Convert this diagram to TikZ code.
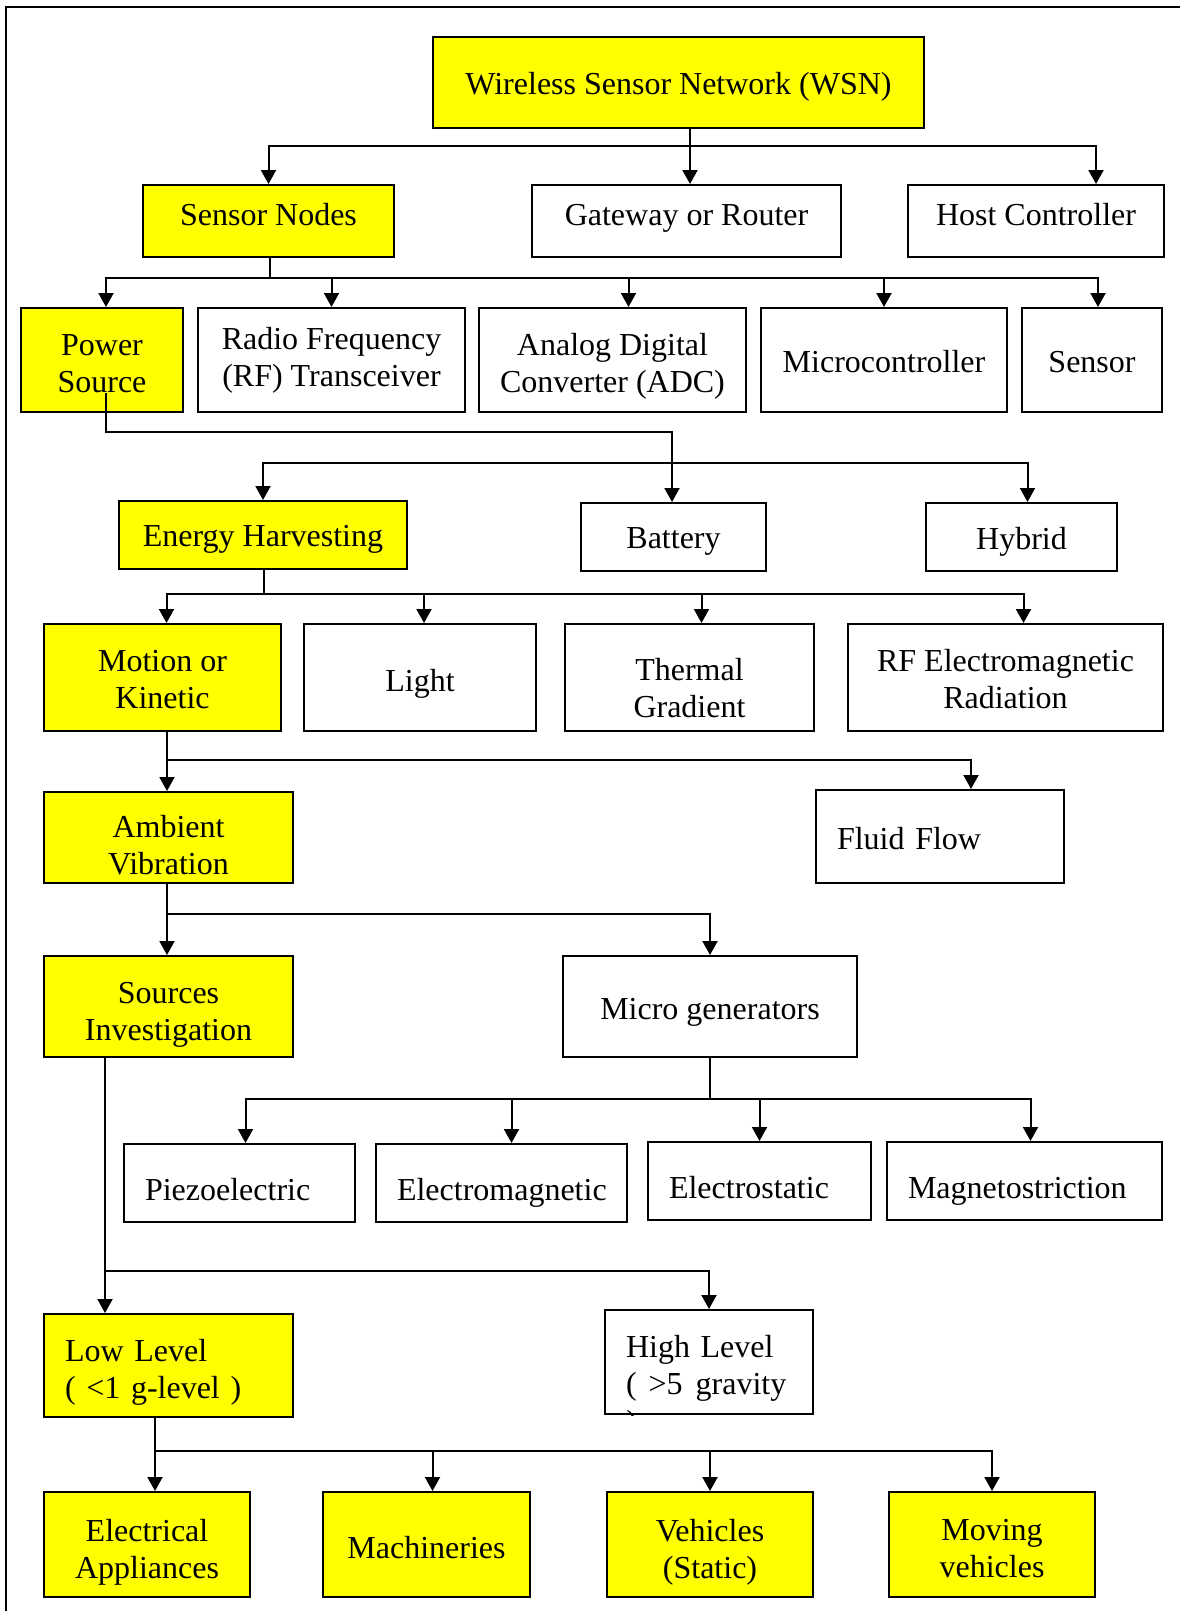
\documentclass[tikz,border=0pt]{standalone}
\usepackage{fontspec}
\setmainfont{Liberation Serif}
\usetikzlibrary{arrows.meta}
\definecolor{boxyellow}{RGB}{255,255,0}

\begin{document}
\begin{tikzpicture}[
    x=0.5pt, y=-0.5pt,
    every node/.style={font=\fontsize{16}{18.5}\selectfont},
    every label/.style={align=center},
    box/.style={
        draw,
        line width=1pt,
        inner sep=0pt
    },
    ybox/.style={box, fill=boxyellow},
    ltext/.style={align=left},
    link/.style={line width=1pt},
    arr/.style={-{Triangle[length=7pt,width=7.5pt]}, line width=1pt}
]

    \useasboundingbox (0,0) rectangle (1180,1611);

    % Frame
    \draw[link] (1180,7) -- (6,7) -- (6,1611);

    % Top level
    \node[ybox, minimum width=245.5pt, minimum height=45.5pt,
        label={[yshift=-2pt]center:Wireless Sensor Network (WSN)}] (wsn) at (678.5,82.5) {};

    \node[ybox, minimum width=125.5pt, minimum height=36pt,
        label={[yshift=3pt]center:Sensor Nodes}] (sn) at (268.5,221) {};
    \node[box, minimum width=154.5pt, minimum height=36pt,
        label={[yshift=1.5pt]center:Gateway or Router}] (gw) at (686.5,221) {};
    \node[box, minimum width=128pt, minimum height=36pt,
        label={[yshift=3pt]center:Host Controller}] (hc) at (1036,221) {};

    % Sensor node parts
    \node[ybox, minimum width=81pt, minimum height=52pt,
        label={[yshift=-2pt]center:Power\\Source}] (ps) at (102,360) {};
    \node[box, minimum width=133.5pt, minimum height=52pt,
        label={center:Radio Frequency\\(RF) Transceiver}] (rf) at (331.5,360) {};
    \node[box, minimum width=133.5pt, minimum height=52pt,
        label={[yshift=-3pt]center:Analog Digital\\Converter (ADC)}] (adc) at (612.5,360) {};
    \node[box, minimum width=123pt, minimum height=52pt,
        label={[yshift=-1pt]center:Microcontroller}] (mc) at (884,360) {};
    \node[box, minimum width=70pt, minimum height=52pt,
        label={[yshift=-1pt]center:Sensor}] (sen) at (1092,360) {};

    % Power source
    \node[ybox, minimum width=144pt, minimum height=34pt,
        label={[yshift=-2pt]center:Energy Harvesting}] (eh) at (263,535) {};
    \node[box, minimum width=92.5pt, minimum height=34pt,
        label={[yshift=-2pt]center:Battery}] (bat) at (673.5,537) {};
    \node[box, minimum width=95.5pt, minimum height=34pt,
        label={[yshift=-2.5pt]center:Hybrid}] (hy) at (1021.5,537) {};

    % Harvesting sources
    \node[ybox, minimum width=118.5pt, minimum height=53.5pt,
        label={[yshift=-1pt]center:Motion or\\Kinetic}] (mk) at (162.5,677.5) {};
    \node[box, minimum width=116pt, minimum height=53.5pt,
        label={[yshift=-3pt]center:Light}] (li) at (420,677.5) {};
    \node[box, minimum width=124.5pt, minimum height=53.5pt,
        label={[yshift=-5.5pt]center:Thermal\\Gradient}] (th) at (689.5,677.5) {};
    \node[box, minimum width=157.5pt, minimum height=53.5pt,
        label={[yshift=-1pt]center:RF Electromagnetic\\Radiation}] (rfem) at (1005.5,677.5) {};

    \node[ybox, minimum width=124.5pt, minimum height=45.5pt,
        label={[yshift=-4pt]center:Ambient\\Vibration}] (av) at (168.5,837.5) {};
    \node[box, minimum width=124pt, minimum height=46.5pt,
        label={[ltext, text width=103pt, yshift=-1pt]center:Fluid Flow}] (ff) at (940,836.5) {};

    \node[ybox, minimum width=124.5pt, minimum height=50.5pt,
        label={[yshift=-4pt]center:Sources\\Investigation}] (si) at (168.5,1006.5) {};
    \node[box, minimum width=147pt, minimum height=50.5pt,
        label={[yshift=-3pt]center:Micro generators}] (mg) at (710,1006.5) {};

    % Micro generators
    \node[box, minimum width=115.5pt, minimum height=39pt,
        label={[ltext, text width=94.5pt, yshift=-3.5pt]center:Piezoelectric}] (pz) at (239.5,1183) {};
    \node[box, minimum width=125.5pt, minimum height=39pt,
        label={[ltext, text width=104.5pt, yshift=-5pt]center:Electromagnetic}] (em) at (501.5,1183) {};
    \node[box, minimum width=111.5pt, minimum height=39pt,
        label={[ltext, text width=90.5pt, yshift=-3.5pt]center:Electrostatic}] (es) at (759.5,1181) {};
    \node[box, minimum width=137.5pt, minimum height=39pt,
        label={[ltext, text width=116.5pt, yshift=-5pt]center:Magnetostriction}] (ms) at (1024.5,1181) {};

    % Vibration levels
    \node[ybox, minimum width=124.5pt, minimum height=51.5pt,
        label={[ltext, text width=103.5pt, yshift=-3.5pt]center:Low Level\\( <1 g-level )}] (ll) at (168.5,1365.5) {};
    \node[box, minimum width=104pt, minimum height=52pt,
        label={[ltext, text width=110pt, xshift=13.5pt, yshift=-3pt]center:High Level\\(\hspace{6pt}>5\hspace{6.5pt}gravity}] (hl) at (709,1362) {};
    \begin{scope}
        \clip (hl.south west) rectangle (hl.north east);
        \node[anchor=base west, inner sep=0pt] (hlend) at (626,1432) {)};
    \end{scope}

    \node[ybox, minimum width=103pt, minimum height=52.5pt,
        label={[yshift=-4pt]center:Electrical\\Appliances}] (ea) at (147,1544.5) {};
    \node[ybox, minimum width=103.5pt, minimum height=52.5pt,
        label={[yshift=-1.5pt]center:Machineries}] (mach) at (426.5,1544.5) {};
    \node[ybox, minimum width=103pt, minimum height=52.5pt,
        label={[yshift=-4pt]center:Vehicles\\(Static)}] (veh) at (710,1544.5) {};
    \node[ybox, minimum width=103pt, minimum height=52.5pt,
        label={[yshift=-2pt]center:Moving\\vehicles}] (mov) at (992,1544.5) {};

    % Junctions
    \coordinate (j1) at (690,146);
    \coordinate (j2) at (270,278);
    \coordinate (k3) at (672,432);
    \coordinate (j3) at (672,463);
    \coordinate (j4) at (264,594);
    \coordinate (j5) at (167,760);
    \coordinate (j6) at (167,914);
    \coordinate (j7) at (710,1099);
    \coordinate (j8) at (105,1271);
    \coordinate (j9) at (155,1451);

    % Arrows
    \draw[link] (wsn.south -| j1) -- (j1);
    \draw[arr] (j1) -| (sn.north);
    \draw[arr] (j1) -- (j1 |- gw.north);
    \draw[arr] (j1) -| ([xshift=30pt]hc.north);

    \draw[link] (sn.south -| j2) -- (j2);
    \draw[arr] (j2) -| ([xshift=2pt]ps.north);
    \draw[arr] (j2) -| (rf.north);
    \draw[arr] (j2) -| ([xshift=8pt]adc.north);
    \draw[arr] (j2) -| (mc.north);
    \draw[arr] (j2) -| ([xshift=3pt]sen.north);

    \draw[link] ([xshift=2pt,yshift=10pt]ps.south) |- (k3) -- (j3);
    \draw[arr] (j3) -- (j3 |- bat.north);
    \draw[arr] (j3) -| (eh.north);
    \draw[arr] (j3) -| ([xshift=3pt]hy.north);

    \draw[link] (eh.south -| j4) -- (j4);
    \draw[arr] (j4) -| ([xshift=2pt]mk.north);
    \draw[arr] (j4) -| ([xshift=2pt]li.north);
    \draw[arr] (j4) -| ([xshift=6pt]th.north);
    \draw[arr] (j4) -| ([xshift=9pt]rfem.north);

    \draw[arr] (mk.south -| j5) -- (j5 |- av.north);
    \draw[arr] (j5) -| ([xshift=15.5pt]ff.north);

    \draw[arr] (av.south -| j6) -- (j6 |- si.north);
    \draw[arr] (j6) -| (mg.north);

    \draw[link] (mg.south) -- (j7);
    \draw[arr] (j7) -| ([xshift=3pt]pz.north);
    \draw[arr] (j7) -| ([xshift=5pt]em.north);
    \draw[arr] (j7) -| (es.north);
    \draw[arr] (j7) -| ([xshift=3pt]ms.north);

    \draw[arr] (si.south -| j8) -- (j8 |- ll.north);
    \draw[arr] (j8) -| (hl.north);

    \draw[arr] (ll.south -| j9) -- (j9 |- ea.north);
    \draw[arr] (j9) -| ([xshift=3pt]mach.north);
    \draw[arr] (j9) -| (veh.north);
    \draw[arr] (j9) -| (mov.north);

\end{tikzpicture}
\end{document}
